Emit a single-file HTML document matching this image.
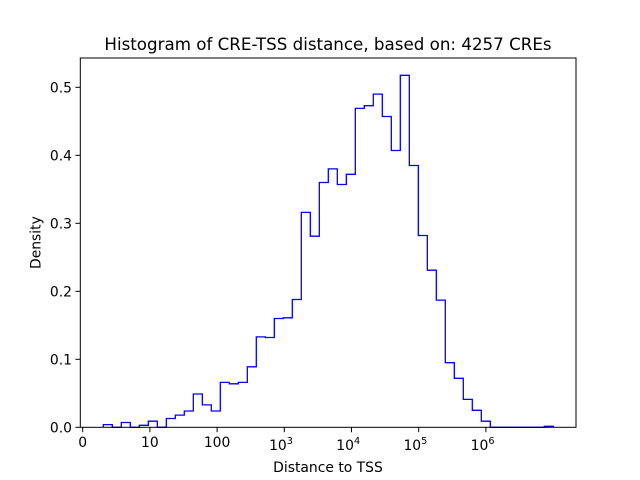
<!DOCTYPE html>
<html><head><meta charset="utf-8"><style>
html,body{margin:0;padding:0;background:#fff;}
svg{display:block;font-family:"DejaVu Sans","Liberation Sans",sans-serif;}
</style></head><body>
<svg width="640" height="480" viewBox="0 0 640 480" xmlns="http://www.w3.org/2000/svg">
<rect width="640" height="480" fill="#fff"/>
<path d="M103.3 427.3 V424.6 H112.3 V427.3 H121.3 V422.5 H130.3 V427.3 H139.3 V425.3 H148.3 V421.2 H157.3 V427.3 H166.3 V418.5 H175.3 V415.1 H184.3 V411 H193.3 V394 H202.3 V404.9 H211.3 V411 H220.3 V382.4 H229.3 V383.8 H238.3 V382.4 H247.3 V366.8 H256.3 V336.9 H265.3 V337.5 H274.3 V318.5 H283.3 V317.8 H292.3 V299.5 H301.3 V212.4 H310.3 V236.2 H319.3 V182.5 H328.3 V168.9 H337.3 V184.5 H346.3 V174.3 H355.3 V108.4 H364.3 V105.7 H373.3 V94.1 H382.3 V116.5 H391.3 V150.5 H400.3 V75.3 H409.3 V165.5 H418.3 V235.5 H427.3 V270.2 H436.3 V300.1 H445.3 V362.7 H454.3 V378.3 H463.3 V399.4 H472.3 V410.3 H481.3 V421.2 H490.3 V427.3 H544.3 V426.3 H553.3 V427.3" fill="none" stroke="#0000ff" stroke-width="1.3"/>
<rect x="80.3" y="58" width="495.7" height="369.3" fill="none" stroke="#000" stroke-width="1"/>
<g stroke="#000" stroke-width="1">
<line x1="75.4" x2="80.3" y1="427.3" y2="427.3"/><line x1="75.4" x2="80.3" y1="359.3" y2="359.3"/><line x1="75.4" x2="80.3" y1="291.3" y2="291.3"/><line x1="75.4" x2="80.3" y1="223.3" y2="223.3"/><line x1="75.4" x2="80.3" y1="155.3" y2="155.3"/><line x1="75.4" x2="80.3" y1="87.3" y2="87.3"/>
<line x1="82.7" x2="82.7" y1="427.3" y2="432.2"/><line x1="149.9" x2="149.9" y1="427.3" y2="432.2"/><line x1="217.1" x2="217.1" y1="427.3" y2="432.2"/><line x1="284.3" x2="284.3" y1="427.3" y2="432.2"/><line x1="351.5" x2="351.5" y1="427.3" y2="432.2"/><line x1="418.7" x2="418.7" y1="427.3" y2="432.2"/><line x1="485.9" x2="485.9" y1="427.3" y2="432.2"/>
</g>
<g font-size="13.9" text-anchor="end" fill="#000">
<text x="72" y="432.3">0.0</text><text x="72" y="364.3">0.1</text><text x="72" y="296.3">0.2</text><text x="72" y="228.3">0.3</text><text x="72" y="160.3">0.4</text><text x="72" y="92.3">0.5</text>
</g>
<g font-size="13.9" text-anchor="middle" fill="#000">
<text x="82.7" y="447">0</text><text x="149.9" y="447">10</text><text x="217.1" y="447">100</text>
<text x="281" y="450">10<tspan font-size="9.7" dy="-6">3</tspan></text>
<text x="348.2" y="450">10<tspan font-size="9.7" dy="-6">4</tspan></text>
<text x="415.4" y="450">10<tspan font-size="9.7" dy="-6">5</tspan></text>
<text x="482.6" y="450">10<tspan font-size="9.7" dy="-6">6</tspan></text>
<text x="328" y="472">Distance to TSS</text>
<text x="328" y="50" font-size="16.7">Histogram of CRE-TSS distance, based on: 4257 CREs</text>
<text transform="translate(40.5,242.6) rotate(-90)">Density</text>
</g>
</svg>
</body></html>
